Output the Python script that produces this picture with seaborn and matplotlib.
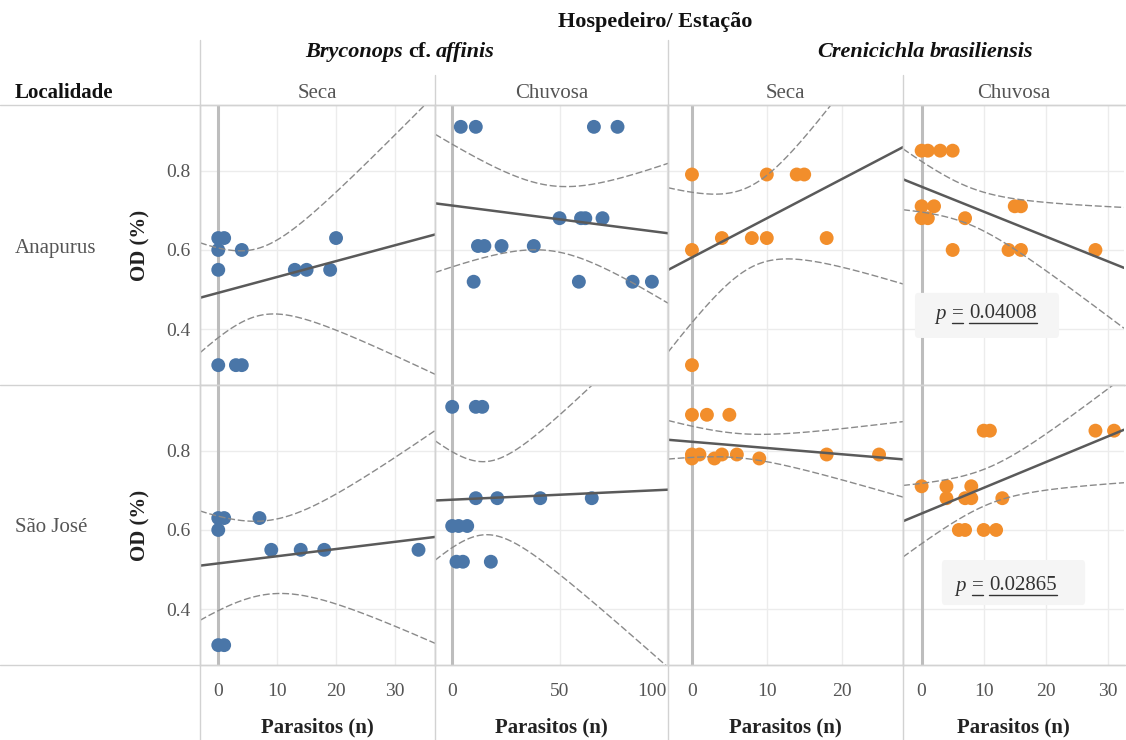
import numpy as np
import pandas as pd
import seaborn as sns
import matplotlib.pyplot as plt
from matplotlib.lines import Line2D
from matplotlib.patches import FancyBboxPatch

# Parasitos (n) vs OD (%) per panel
# Anapurus
bry_seca_ana_x = [0, 1, 0, 4, 20, 0, 13, 15, 19, 0, 3, 4]
bry_seca_ana_y = [0.63, 0.63, 0.60, 0.60, 0.63, 0.55, 0.55, 0.55, 0.55, 0.31, 0.31, 0.31]
bry_chuv_ana_x = [4, 11, 66, 77, 50, 60, 62, 70, 12, 15, 23, 38, 10, 59, 84, 93]
bry_chuv_ana_y = [0.91, 0.91, 0.91, 0.91, 0.68, 0.68, 0.68, 0.68, 0.61, 0.61, 0.61, 0.61,
                  0.52, 0.52, 0.52, 0.52]
cre_seca_ana_x = [0, 10, 14, 15, 4, 8, 10, 18, 0, 0]
cre_seca_ana_y = [0.79, 0.79, 0.79, 0.79, 0.63, 0.63, 0.63, 0.63, 0.60, 0.31]
cre_chuv_ana_x = [0, 1, 3, 5, 0, 2, 15, 16, 0, 1, 7, 5, 14, 16, 28]
cre_chuv_ana_y = [0.85, 0.85, 0.85, 0.85, 0.71, 0.71, 0.71, 0.71, 0.68, 0.68, 0.68,
                  0.60, 0.60, 0.60, 0.60]
# São José
bry_seca_sj_x = [0, 1, 7, 0, 9, 14, 18, 34, 0, 1]
bry_seca_sj_y = [0.63, 0.63, 0.63, 0.60, 0.55, 0.55, 0.55, 0.55, 0.31, 0.31]
bry_chuv_sj_x = [0, 11, 14, 11, 21, 41, 65, 0, 3, 7, 2, 5, 18]
bry_chuv_sj_y = [0.91, 0.91, 0.91, 0.68, 0.68, 0.68, 0.68, 0.61, 0.61, 0.61, 0.52, 0.52, 0.52]
cre_seca_sj_x = [0, 2, 5, 0, 0, 1, 3, 4, 6, 9, 18, 25]
cre_seca_sj_y = [0.89, 0.89, 0.89, 0.79, 0.78, 0.79, 0.78, 0.79, 0.79, 0.78, 0.79, 0.79]
cre_chuv_sj_x = [10, 11, 28, 31, 0, 4, 8, 4, 7, 8, 13, 6, 7, 10, 12]
cre_chuv_sj_y = [0.85, 0.85, 0.85, 0.85, 0.71, 0.71, 0.71, 0.68, 0.68, 0.68, 0.68,
                 0.60, 0.60, 0.60, 0.60]

localidades = ["Anapurus", "São José"]
columns = [("Bryconops", "Seca"), ("Bryconops", "Chuvosa"),
           ("Crenicichla", "Seca"), ("Crenicichla", "Chuvosa")]
x_ticks = [[0, 10, 20, 30], [0, 50, 100], [0, 10, 20], [0, 10, 20, 30]]
x_limits = [(-3.1, 36.8), (-8.0, 100.5), (-3.2, 28.2), (-3.0, 32.6)]
y_ticks = [0.4, 0.6, 0.8]
p_values = {0: "0.04008", 1: "0.02865"}

panel_data = {
    ("Anapurus", "Bryconops", "Seca"): (bry_seca_ana_x, bry_seca_ana_y),
    ("Anapurus", "Bryconops", "Chuvosa"): (bry_chuv_ana_x, bry_chuv_ana_y),
    ("Anapurus", "Crenicichla", "Seca"): (cre_seca_ana_x, cre_seca_ana_y),
    ("Anapurus", "Crenicichla", "Chuvosa"): (cre_chuv_ana_x, cre_chuv_ana_y),
    ("São José", "Bryconops", "Seca"): (bry_seca_sj_x, bry_seca_sj_y),
    ("São José", "Bryconops", "Chuvosa"): (bry_chuv_sj_x, bry_chuv_sj_y),
    ("São José", "Crenicichla", "Seca"): (cre_seca_sj_x, cre_seca_sj_y),
    ("São José", "Crenicichla", "Chuvosa"): (cre_chuv_sj_x, cre_chuv_sj_y),
}
rows = []
for (loc, host, season), (xs, ys) in panel_data.items():
    for x, y in zip(xs, ys):
        rows.append(dict(localidade=loc, host=host, season=season, parasitos=x, od=y))
df = pd.DataFrame(rows)

host_colors = {"Bryconops": "#4a76a8", "Crenicichla": "#f28e2b"}
# two-sided 95% t quantiles for the confidence bands
T975 = {6: 2.447, 7: 2.365, 8: 2.306, 9: 2.262, 10: 2.228, 11: 2.201, 12: 2.179,
        13: 2.160, 14: 2.145, 15: 2.131, 16: 2.120, 17: 2.110, 18: 2.101}

sns.set_style("white")
plt.rcParams['font.family'] = ['Liberation Serif', 'DejaVu Serif']

W, H = 1126, 740
GREY_TXT = "#555555"
LINE_CLR = "#d2d2d2"


def fx(p):
    return p / W


def fy(p):
    return 1 - p / H


fig = plt.figure(figsize=(W / 100, H / 100), dpi=100)
gs = fig.add_gridspec(2, 4, left=fx(200), right=fx(1124), top=fy(105), bottom=fy(665),
                      wspace=0, hspace=0, width_ratios=[235, 233, 235, 221])

for r, loc in enumerate(localidades):
    for c, (host, season) in enumerate(columns):
        ax = fig.add_subplot(gs[r, c])
        sub = df[(df.localidade == loc) & (df.host == host) & (df.season == season)]
        ax.set_xlim(*x_limits[c])
        ax.set_ylim(0.26, 0.965)
        ax.set_xticks(x_ticks[c])
        ax.set_yticks(y_ticks)
        ax.grid(True, color="#ececec", lw=1)
        ax.set_axisbelow(True)
        ax.axvline(0, color="#bdbdbd", lw=2.2, zorder=1.5)

        sns.scatterplot(data=sub, x="parasitos", y="od", color=host_colors[host], s=100,
                        edgecolor="none", linewidth=0, ax=ax, zorder=3)
        sns.regplot(data=sub, x="parasitos", y="od", scatter=False, ci=None, truncate=False,
                    line_kws=dict(color="#5a5a5a", lw=1.8, zorder=4), ax=ax)

        # 95% confidence band for the mean (drawn as lines, not a filled area)
        x = sub.parasitos.to_numpy(float)
        y = sub.od.to_numpy(float)
        n = len(x)
        b1, b0 = np.polyfit(x, y, 1)
        s = np.sqrt(np.sum((y - (b0 + b1 * x)) ** 2) / (n - 2))
        sxx = np.sum((x - x.mean()) ** 2)
        xs = np.linspace(*x_limits[c], 200)
        half = T975[n - 2] * s * np.sqrt(1 / n + (xs - x.mean()) ** 2 / sxx)
        for sign in (1, -1):
            ax.plot(xs, b0 + b1 * xs + sign * half, color="#8a8a8a", lw=1.0,
                    ls=(0, (5, 2)), zorder=4)
        ax.set_xlim(*x_limits[c])
        ax.set_ylim(0.26, 0.965)

        for sp in ax.spines.values():
            sp.set_color(LINE_CLR)
            sp.set_linewidth(1)
        ax.spines["right"].set_visible(c < 3)
        ax.tick_params(length=0, labelsize=14, labelcolor=GREY_TXT)
        ax.tick_params(axis="y", pad=7)
        ax.tick_params(axis="x", pad=13)
        ax.set_xlabel("")
        ax.set_ylabel("")
        if c == 0:
            ax.set_ylabel("OD (%)", fontsize=15, fontweight="bold", color="#222222")
            ax.yaxis.set_label_coords(-60 / 235, 0.5)
            ax.yaxis.label.set_va("center")
        else:
            ax.tick_params(axis="y", labelleft=False)
        if r == 1:
            ax.set_xlabel("Parasitos (n)", fontsize=15, fontweight="bold", color="#222222")
            ax.xaxis.set_label_coords(0.5, -(727 - 665) / 280)
            ax.xaxis.label.set_va("center")
            if c == 1:
                ax.get_xticklabels()[-1].set_ha("right")
        else:
            ax.tick_params(axis="x", labelbottom=False)

        if c == 3:
            if r == 0:
                box = (0.054, 0.168, 0.652, 0.161)
            else:
                box = (0.176, 0.214, 0.648, 0.161)
            ax.add_patch(FancyBboxPatch(box[:2], box[2], box[3], transform=ax.transAxes,
                                        boxstyle="round,pad=0,rounding_size=0.015",
                                        fc="#f5f5f5", ec="none", zorder=2))

# grid separator lines of the table layout
for yp in (105, 385, 665):
    fig.add_artist(Line2D([0, 1], [fy(yp), fy(yp)], transform=fig.transFigure,
                          color=LINE_CLR, lw=1))
for xp, ytop in ((200, 40), (435, 75), (668, 40), (903, 75)):
    fig.add_artist(Line2D([fx(xp), fx(xp)], [fy(ytop), 0], transform=fig.transFigure,
                          color=LINE_CLR, lw=1))

# headers
fig.text(fx(655), fy(22), "Hospedeiro/ Estação", fontsize=16, fontweight="bold",
         ha="center", va="center", color="#111111")
fig.text(fx(15), fy(93), "Localidade", fontsize=15, fontweight="bold",
         ha="left", va="center", color="#111111")
for c, (host, season) in enumerate(columns):
    centre = [317.5, 551.5, 785.5, 1013.5][c]
    fig.text(fx(centre), fy(93), season, fontsize=15, ha="center", va="center",
             color=GREY_TXT)
for r, loc in enumerate(localidades):
    fig.text(fx(15), fy([248, 528][r]), loc, fontsize=15, ha="left", va="center",
             color=GREY_TXT)

renderer = fig.canvas.get_renderer()


def rich_line(x_centre, y_px, pieces, size, gap=5, color="#111111", underline=()):
    texts = [fig.text(0, fy(y_px), s, fontsize=size, fontweight=wt, fontstyle=st,
                      ha="left", va="center", color=color) for s, wt, st in pieces]
    widths = [t.get_window_extent(renderer).width for t in texts]
    x = x_centre - (sum(widths) + gap * (len(widths) - 1)) / 2
    for i, (t, w) in enumerate(zip(texts, widths)):
        t.set_x(fx(x))
        if i in underline:
            bb = t.get_window_extent(renderer)
            yl = bb.y0 + 1
            fig.add_artist(Line2D([x / W, (x + w) / W], [yl / H, yl / H],
                                  transform=fig.transFigure, color=color, lw=1))
        x += w + gap


rich_line(400, 52, [("Bryconops", "bold", "italic"), ("cf.", "bold", "normal"),
                    ("affinis", "bold", "italic")], 16)
rich_line(925, 52, [("Crenicichla", "bold", "italic"),
                    ("brasiliensis", "bold", "italic")], 16)

for r, pv in p_values.items():
    xc, yc = [(986, 314), (1006, 586)][r]
    rich_line(xc, yc, [("p", "normal", "italic"), ("=", "normal", "normal"),
                       (pv, "normal", "normal")], 15, gap=6, color="#333333",
              underline=(1, 2))

fig.savefig("out.png", dpi=100)
